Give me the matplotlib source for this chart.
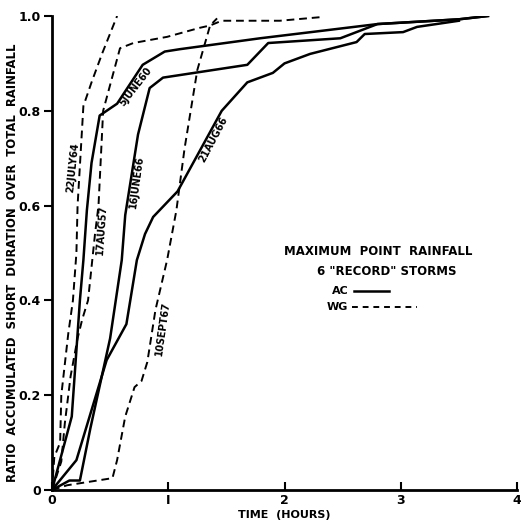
import numpy as np
import matplotlib
matplotlib.use("Agg")
import matplotlib.pyplot as plt

# storm curves: time (hours) vs ratio
jul64_t = [0, 0.02, 0.07, 0.08, 0.14, 0.18, 0.21, 0.22, 0.27, 0.34, 0.43, 0.56]
jul64_r = [0, 0.07, 0.10, 0.20, 0.33, 0.40, 0.50, 0.60, 0.81, 0.86, 0.92, 1.0]

aug57_t = [0, 0.08, 0.11, 0.16, 0.22, 0.26, 0.31, 0.37, 0.40, 0.44, 0.585, 0.70, 0.99, 1.27, 1.36, 1.46, 1.96, 2.33]
aug57_r = [0, 0.06, 0.14, 0.24, 0.32, 0.36, 0.40, 0.54, 0.60, 0.80, 0.932, 0.943, 0.956, 0.975, 0.98, 0.99, 0.99, 0.998]

sep67_t = [0, 0.13, 0.52, 0.56, 0.63, 0.71, 0.77, 0.82, 0.89, 0.99, 1.07, 1.14, 1.25, 1.36, 1.42]
sep67_r = [0, 0.01, 0.025, 0.063, 0.155, 0.217, 0.23, 0.27, 0.38, 0.485, 0.59, 0.72, 0.886, 0.98, 0.995]

jun60_t = [0, 0.17, 0.24, 0.27, 0.30, 0.34, 0.41, 0.47, 0.56, 0.78, 0.97, 1.10, 1.79, 2.80, 3.50, 3.75]
jun60_r = [0, 0.155, 0.40, 0.485, 0.59, 0.69, 0.79, 0.80, 0.815, 0.897, 0.925, 0.93, 0.953, 0.983, 0.993, 1.0]

jun66_t = [0, 0.15, 0.24, 0.33, 0.50, 0.60, 0.63, 0.74, 0.84, 0.955, 1.68, 1.86, 2.48, 2.80, 3.50, 3.75]
jun66_r = [0, 0.02, 0.02, 0.13, 0.32, 0.485, 0.58, 0.75, 0.848, 0.87, 0.897, 0.943, 0.953, 0.983, 0.993, 1.0]

aug66_t = [0, 0.21, 0.47, 0.64, 0.73, 0.80, 0.87, 1.08, 1.46, 1.68, 1.79, 1.90, 2.0, 2.22, 2.62, 2.69, 3.02, 3.14, 3.50]
aug66_r = [0, 0.063, 0.274, 0.35, 0.485, 0.54, 0.576, 0.63, 0.80, 0.86, 0.87, 0.88, 0.90, 0.92, 0.945, 0.962, 0.966, 0.977, 0.99]

x_ticks = [0, 1, 2, 3, 4]
x_labels = ["0", "I", "2", "3", "4"]
y_ticks = [0, 0.2, 0.4, 0.6, 0.8, 1.0]
y_labels = ["0", "0.2", "0.4", "0.6", "0.8", "1.0"]

plt.rcParams['font.family'] = ['DejaVu Sans']
plt.rcParams['font.weight'] = 'bold'

fig = plt.figure(figsize=(5.21, 5.26), dpi=100)
ax = fig.add_axes([52/521, 36/526, 465/521, 474/526])

dash = (0, (4, 2.5))
ax.plot(jul64_t, jul64_r, color='k', lw=1.4, ls=dash)
ax.plot(aug57_t, aug57_r, color='k', lw=1.4, ls=dash)
ax.plot(sep67_t, sep67_r, color='k', lw=1.4, ls=dash)
ax.plot(jun60_t, jun60_r, color='k', lw=1.8)
ax.plot(jun66_t, jun66_r, color='k', lw=1.8)
ax.plot(aug66_t, aug66_r, color='k', lw=1.8)

ax.set_xlim(0, 4)
ax.set_ylim(0, 1)
ax.spines['top'].set_visible(False)
ax.spines['right'].set_visible(False)
ax.spines['left'].set_linewidth(2)
ax.spines['bottom'].set_linewidth(2)
ax.set_xticks(x_ticks)
ax.set_xticklabels(x_labels)
ax.set_yticks(y_ticks)
ax.set_yticklabels(y_labels)
ax.tick_params(axis='x', direction='in', length=6, width=1.5, labelsize=9, pad=3)
ax.tick_params(axis='y', direction='out', length=6, width=1.5, labelsize=9, pad=2)

ax.set_xlabel("TIME  (HOURS)", fontsize=8, fontweight='bold', labelpad=2)
# y label placed by hand so it stays inside the figure
fig.text(13/521, 0.50, "RATIO  ACCUMULATED  SHORT  DURATION  OVER  TOTAL  RAINFALL",
         fontsize=8.4, fontweight='bold', rotation=90, ha='center', va='center')

lab = dict(fontsize=7, fontweight='bold', ha='center', va='center')
ax.text(0.18, 0.68, "22JULY64", rotation=84, **lab)
ax.text(0.43, 0.55, "17AUG57", rotation=86, **lab)
ax.text(0.72, 0.85, "5JUNE60", rotation=52, **lab)
ax.text(0.73, 0.65, "16JUNE66", rotation=82, **lab)
ax.text(1.39, 0.74, "21AUG66", rotation=62, **lab)
ax.text(0.95, 0.34, "10SEPT67", rotation=82, **lab)

leg = dict(fontsize=8.5, fontweight='bold', ha='center', va='center')
ax.text(2.81, 0.503, "MAXIMUM  POINT  RAINFALL", **leg)
ax.text(2.88, 0.46, '6 "RECORD" STORMS', **leg)
ax.text(2.55, 0.42, "AC", fontsize=8, fontweight='bold', ha='right', va='center')
ax.plot([2.6, 2.9], [0.42, 0.42], color='k', lw=1.8)
ax.text(2.55, 0.386, "WG", fontsize=8, fontweight='bold', ha='right', va='center')
ax.plot([2.58, 3.14], [0.386, 0.386], color='k', lw=1.4, ls=(0, (3, 2.5)))

fig.savefig("out.png", dpi=100)
